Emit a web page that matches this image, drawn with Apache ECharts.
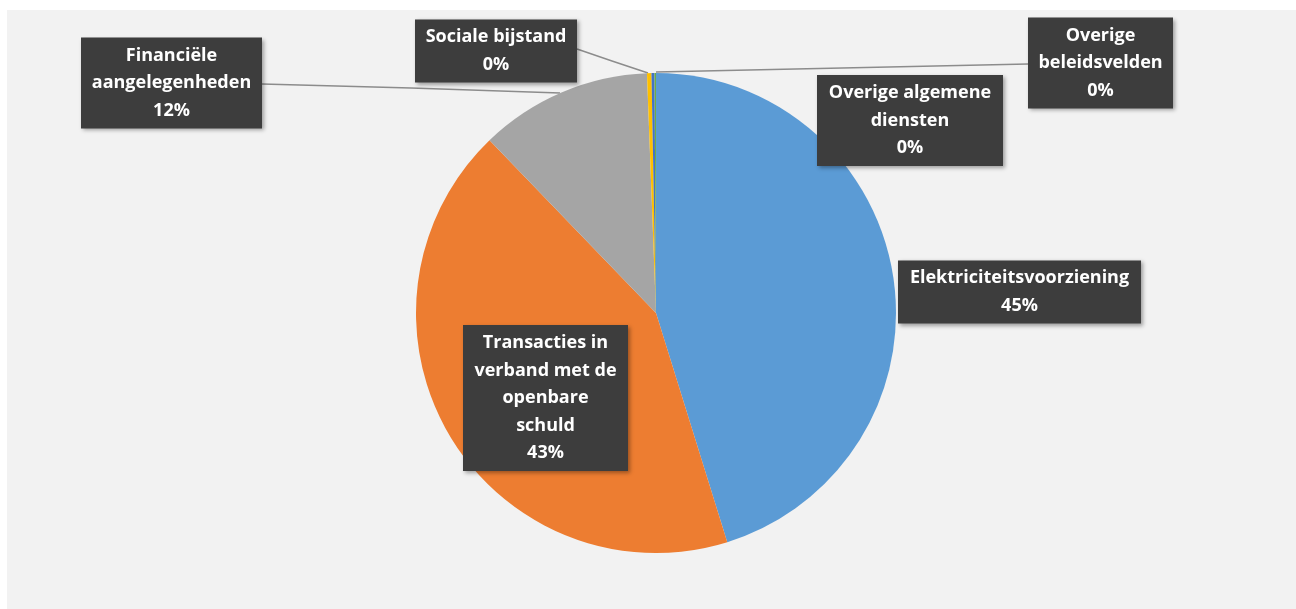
<!DOCTYPE html>
<html>
<head>
<meta charset="utf-8">
<script src="https://cdn.jsdelivr.net/npm/echarts@6/dist/echarts.min.js"></script>
<style>
html,body{margin:0;padding:0;background:#ffffff;}
#chart{width:1296px;height:609px;}
</style>
</head>
<body>
<div id="chart"></div>
<script>
// Data
const categories = [
  'Elektriciteitsvoorziening',
  'Transacties in verband met de openbare schuld',
  'Financiële aangelegenheden',
  'Sociale bijstand',
  'Overige algemene diensten',
  'Overige beleidsvelden'
];
const labelTexts = [
  'Elektriciteitsvoorziening',
  'Transacties in\nverband met de\nopenbare\nschuld',
  'Financiële\naangelegenheden',
  'Sociale bijstand',
  'Overige algemene\ndiensten',
  'Overige\nbeleidsvelden'
];
const values = [45.2, 42.6, 11.6, 0.3, 0.2, 0.1];
const colors = ['#5B9BD5', '#ED7D31', '#A5A5A5', '#FFC000', '#4472C4', '#70AD47'];

// Layout (label box widths, centres and leader lines)
const labelWidth = [243, 165, 181, 162, 186, 145];
const labelPos = [
  [1019.5, 292], [545.5, 398], [171.5, 83], [496, 51], [910, 120.5], [1100.5, 63]
];
const leaderLines = {
  2: [[560, 93], [411, 88], [262, 84]],
  3: [[648, 73], [612, 61], [577, 49]],
  5: [[656, 72], [842, 68], [1028, 64]]
};

const chart = echarts.init(document.getElementById('chart'));
const option = {
  backgroundColor: '#ffffff',
  animation: false,
  graphic: [{
    type: 'rect', z: -10, silent: true,
    shape: {x: 7, y: 10, width: 1289, height: 599},
    style: {fill: '#f2f2f2'}
  }],
  series: [{
    type: 'pie',
    center: [656, 313],
    radius: 240,
    startAngle: 90,
    clockwise: true,
    avoidLabelOverlap: false,
    itemStyle: {borderWidth: 0},
    data: categories.map((c, i) => ({
      name: c,
      value: values[i],
      itemStyle: {color: colors[i]},
      label: {width: labelWidth[i]},
      labelLine: {show: leaderLines[i] !== undefined}
    })),
    label: {
      show: true,
      position: 'outside',
      formatter: p => labelTexts[p.dataIndex] + '\n' + Math.round(p.percent) + '%',
      color: '#ffffff',
      fontFamily: 'Open Sans',
      fontWeight: 'bold',
      fontSize: 18,
      lineHeight: 27.6,
      align: 'center',
      overflow: 'none',
      backgroundColor: '#3d3d3d',
      padding: [8, 0, 0, 0],
      shadowColor: 'rgba(0,0,0,0.35)',
      shadowBlur: 4,
      shadowOffsetX: 2,
      shadowOffsetY: 2
    },
    labelLine: {
      show: true,
      lineStyle: {color: '#8c8c8c', width: 1.5}
    },
    labelLayout: function (params) {
      const i = params.dataIndex;
      const res = {
        x: labelPos[i][0],
        y: labelPos[i][1],
        align: 'center',
        verticalAlign: 'middle'
      };
      if (leaderLines[i]) res.labelLinePoints = leaderLines[i];
      return res;
    }
  }]
};
chart.setOption(option);
</script>
</body>
</html>
